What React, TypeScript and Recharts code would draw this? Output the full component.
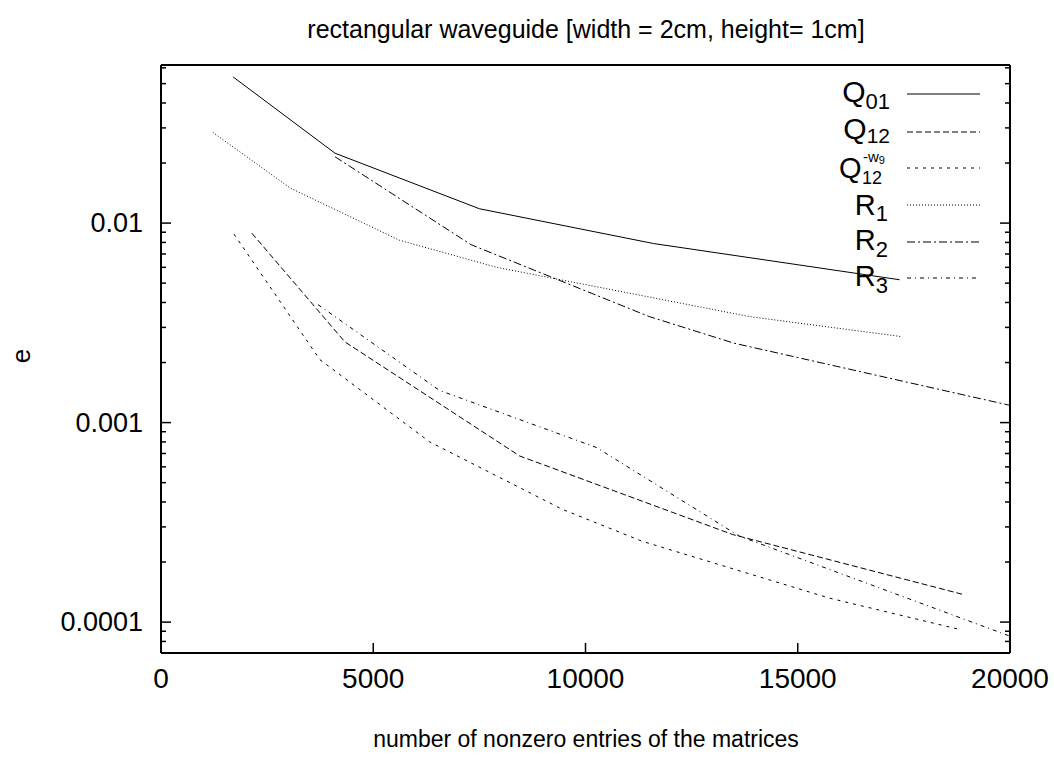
import { LineChart, Line, XAxis, YAxis } from "recharts";

const FONT = "'Liberation Sans', Arial, Helvetica, sans-serif";

// axis ticks
const xTicks = [0, 5000, 10000, 15000, 20000];
const yMajor = [0.0001, 0.001, 0.01];
const yMinor = [
  0.00008, 0.00009,
  0.0002, 0.0003, 0.0004, 0.0005, 0.0006, 0.0007, 0.0008, 0.0009,
  0.002, 0.003, 0.004, 0.005, 0.006, 0.007, 0.008, 0.009,
  0.02, 0.03, 0.04, 0.05, 0.06,
];
const yTicks = [...yMajor, ...yMinor].sort((a, b) => a - b);

// series (x = nonzero entries, e = error)
const q01X = [1700, 4100, 7500, 11600, 17400];
const q01E = [0.054, 0.0224, 0.0118, 0.0079, 0.0052];
const q12X = [2140, 4330, 8450, 13460, 18870];
const q12E = [0.0089, 0.00254, 0.00068, 0.000275, 0.000138];
const q12wX = [1720, 3740, 6330, 9460, 11340, 15740, 18800];
const q12wE = [0.0088, 0.00207, 0.0008, 0.000367, 0.000254, 0.000132, 0.000092];
const r1X = [1220, 3040, 5620, 7910, 13860, 17430];
const r1E = [0.0285, 0.015, 0.0082, 0.006, 0.0034, 0.0027];
const r2X = [4100, 7300, 11500, 13500, 20000];
const r2E = [0.0215, 0.0078, 0.0034, 0.0025, 0.00122];
const r3X = [3700, 6560, 10260, 13620, 20000];
const r3E = [0.0039, 0.00145, 0.00075, 0.00027, 0.000085];

const toRows = (xs: number[], es: number[]) => xs.map((x, i) => ({ x, e: es[i] }));

const series = [
  { key: "q01", data: toRows(q01X, q01E), dash: undefined as string | undefined },
  { key: "q12", data: toRows(q12X, q12E), dash: "6 3" },
  { key: "q12w", data: toRows(q12wX, q12wE), dash: "3 5" },
  { key: "r1", data: toRows(r1X, r1E), dash: "1 2" },
  { key: "r2", data: toRows(r2X, r2E), dash: "8 3 2 3" },
  { key: "r3", data: toRows(r3X, r3E), dash: "4 4 1 4" },
];

const isMajor = (v: number) => yMajor.some((m) => Math.abs(m - v) < m * 1e-6);

const BottomTick = ({ x, y, payload }: any) => (
  <g>
    <line x1={x} x2={x} y1={y} y2={y - 10} stroke="#000" strokeWidth={1.5} />
    <text x={x} y={y + 35} textAnchor="middle" fontSize={28} fontFamily={FONT} fill="#000">
      {payload.value}
    </text>
  </g>
);

const TopTick = ({ x, y }: any) => (
  <line x1={x} x2={x} y1={y} y2={y + 10} stroke="#000" strokeWidth={1.5} />
);

const LeftTick = ({ x, y, payload }: any) => {
  const major = isMajor(payload.value);
  return (
    <g>
      <line x1={x} x2={x + (major ? 10 : 5)} y1={y} y2={y} stroke="#000" strokeWidth={1.5} />
      {major && (
        <text x={x - 18} y={y + 9} textAnchor="end" fontSize={27} fontFamily={FONT} fill="#000">
          {String(payload.value)}
        </text>
      )}
    </g>
  );
};

const RightTick = ({ x, y, payload }: any) => {
  const major = isMajor(payload.value);
  return <line x1={x} x2={x - (major ? 10 : 5)} y1={y} y2={y} stroke="#000" strokeWidth={1.5} />;
};

function LegendOverlay() {
  const x0 = 907;
  const x1 = 980;
  const rows = [94, 132, 168, 205, 242, 278];
  return (
    <svg
      width={1054}
      height={765}
      style={{ position: "absolute", left: 0, top: 0, pointerEvents: "none" }}
      fontFamily={FONT}
      fill="#000"
    >
      <text x={586} y={38} textAnchor="middle" fontSize={25}>
        rectangular waveguide [width = 2cm, height= 1cm]
      </text>
      <text x={586} y={747} textAnchor="middle" fontSize={23}>
        number of nonzero entries of the matrices
      </text>
      <text x={30} y={356} textAnchor="middle" fontSize={26} transform="rotate(-90 30 356)">
        e
      </text>

      {/* Q01 */}
      <text x={890} y={rows[0] + 8} textAnchor="end" fontSize={30}>
        Q<tspan fontSize={22} dy={7}>01</tspan>
      </text>
      {/* Q12 */}
      <text x={890} y={rows[1] + 7} textAnchor="end" fontSize={30}>
        Q<tspan fontSize={21} dy={4}>12</tspan>
      </text>
      {/* Q12^-w9 */}
      <text x={839} y={rows[2] + 10} fontSize={29}>
        Q
        <tspan x={863} y={rows[2] - 6} fontSize={15}>-w</tspan>
        <tspan fontSize={11} dy={2}>9</tspan>
        <tspan x={862} y={rows[2] + 16} fontSize={18}>12</tspan>
      </text>
      {/* R1 R2 R3 */}
      <text x={888} y={rows[3] + 10} textAnchor="end" fontSize={29}>
        R<tspan fontSize={22} dy={6}>1</tspan>
      </text>
      <text x={888} y={rows[4] + 8} textAnchor="end" fontSize={29}>
        R<tspan fontSize={22} dy={7}>2</tspan>
      </text>
      <text x={888} y={rows[5] + 8} textAnchor="end" fontSize={29}>
        R<tspan fontSize={22} dy={7}>3</tspan>
      </text>

      {series.map((s, i) => (
        <line
          key={s.key}
          x1={x0}
          x2={x1}
          y1={rows[i]}
          y2={rows[i]}
          stroke="#000"
          strokeWidth={1}
          strokeDasharray={s.dash}
        />
      ))}
    </svg>
  );
}

export default function App() {
  return (
    <div style={{ position: "absolute", left: 0, top: 0, width: 1054, height: 765, background: "#fff" }}>
      <LineChart width={1054} height={765} margin={{ top: 64, right: 43, bottom: 72, left: 101 }}>
        <XAxis
          dataKey="x"
          type="number"
          domain={[0, 20000]}
          ticks={xTicks}
          interval={0}
          allowDataOverflow
          height={40}
          tickSize={0}
          tickMargin={0}
          tickLine={false}
          axisLine={{ stroke: "#000", strokeWidth: 2 }}
          tick={<BottomTick />}
        />
        <XAxis
          xAxisId="top"
          orientation="top"
          type="number"
          domain={[0, 20000]}
          ticks={xTicks}
          interval={0}
          allowDataOverflow
          height={1}
          tickSize={0}
          tickMargin={0}
          tickLine={false}
          axisLine={{ stroke: "#000", strokeWidth: 2 }}
          tick={<TopTick />}
        />
        <YAxis
          type="number"
          scale="log"
          domain={[0.00007, 0.062]}
          ticks={yTicks}
          interval={0}
          allowDataOverflow
          width={60}
          tickSize={0}
          tickMargin={0}
          tickLine={false}
          axisLine={{ stroke: "#000", strokeWidth: 2 }}
          tick={<LeftTick />}
        />
        <YAxis
          yAxisId="right"
          orientation="right"
          type="number"
          scale="log"
          domain={[0.00007, 0.062]}
          ticks={yTicks}
          interval={0}
          allowDataOverflow
          width={1}
          tickSize={0}
          tickMargin={0}
          tickLine={false}
          axisLine={{ stroke: "#000", strokeWidth: 2 }}
          tick={<RightTick />}
        />
        {series.map((s) => (
          <Line
            key={s.key}
            data={s.data}
            dataKey="e"
            type="linear"
            stroke="#000"
            strokeWidth={1}
            strokeDasharray={s.dash}
            dot={false}
            activeDot={false}
            isAnimationActive={false}
          />
        ))}
      </LineChart>
      <LegendOverlay />
    </div>
  );
}
